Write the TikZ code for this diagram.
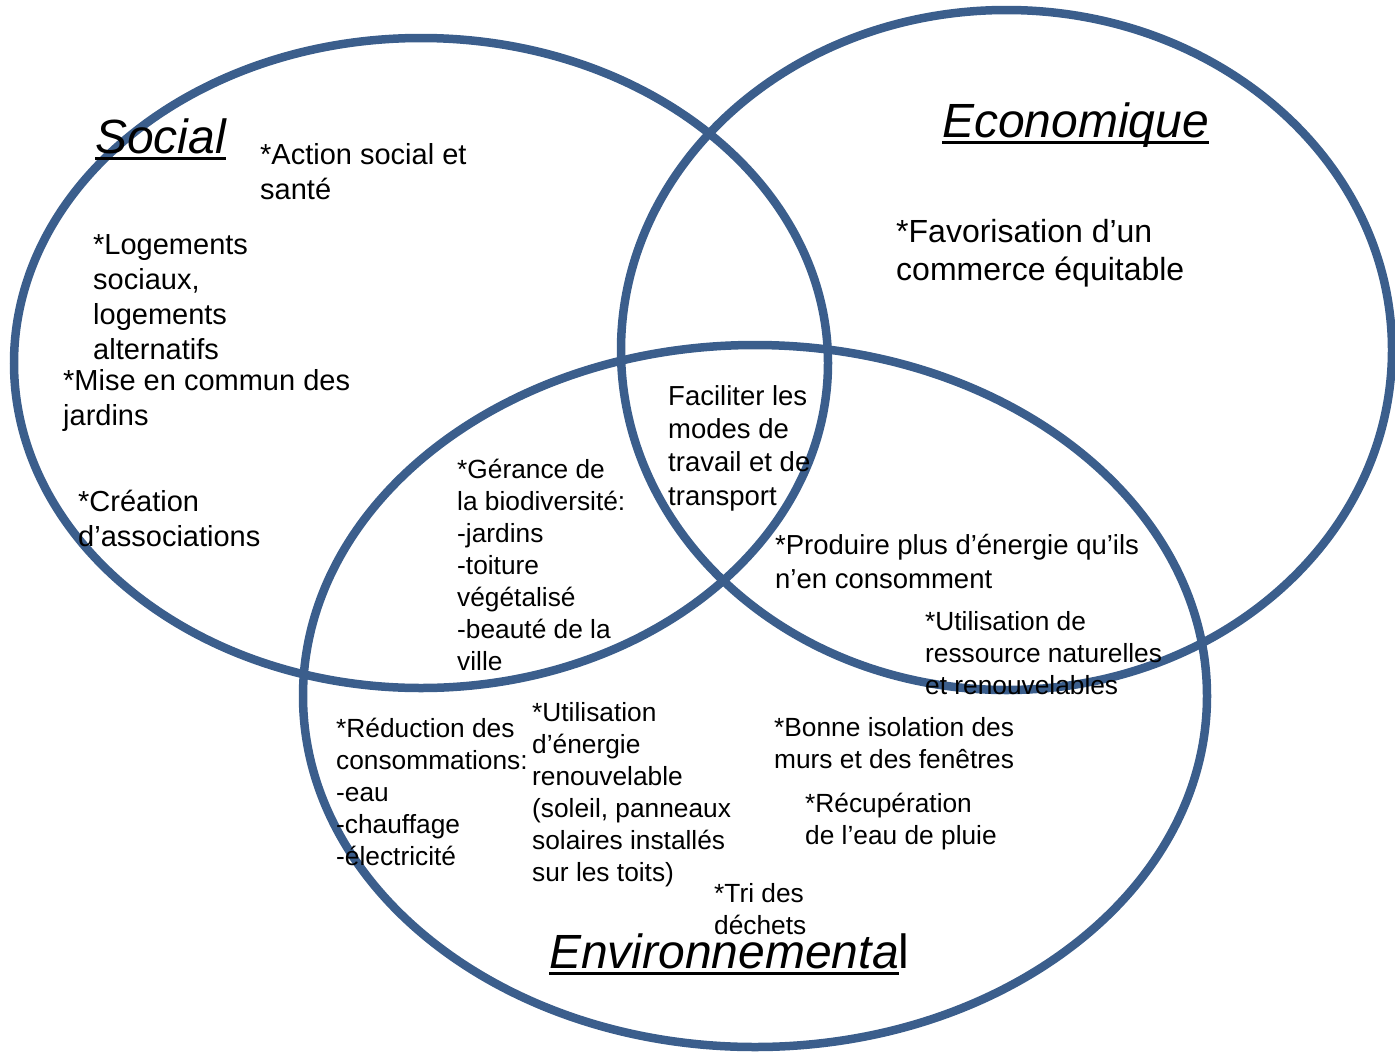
\documentclass[tikz,border=0pt]{standalone}
\usepackage{fontspec}
\setmainfont{Liberation Sans}
\definecolor{vennblue}{HTML}{3B5E8C}
\newcommand{\fsz}[2]{\fontsize{#1}{#2}\selectfont}
\newcommand{\myul}[1]{\setbox0\hbox{#1}\rlap{\rule[-7pt]{\wd0}{3pt}}\box0}
% multi-line nodes: the base anchor is the baseline of the LAST line
\tikzset{
  ring/.style={draw=vennblue, line width=8.5pt},
  txt/.style={anchor=base west, inner sep=0pt, align=left},
  ttl/.style={txt, font=\fsz{48}{56}\itshape},
  fsoc/.style={txt, font=\fsz{29}{35}},
  feco/.style={txt, font=\fsz{32}{37.5}},
  fmid/.style={txt, font=\fsz{27.5}{33.3}},
  fenv/.style={txt, font=\fsz{26.3}{32}}
}
\begin{document}
\begin{tikzpicture}[x=1pt,y=-1pt]
\useasboundingbox (0,0) rectangle (1395,1053);
% circles
\draw[ring] (421,363) ellipse [x radius=407, y radius=325];
\draw[ring] (1006.5,350) ellipse [x radius=385.5, y radius=340];
\draw[ring] (755,696) ellipse [x radius=452, y radius=351];
% titles
\node[ttl] (social) at (95,153) {\myul{Social}};
\node[ttl] (eco) at (942,137) {\myul{Economique}};
\node[ttl] (env) at (549,968) {\myul{Environnementa}\upshape l};
% social
\node[fsoc] (action) at (260,199) {*Action social et\\santé};
\node[fsoc] (logement) at (93,359) {*Logements\\sociaux,\\logements\\alternatifs};
\node[fsoc] (jardins) at (63,425) {*Mise en commun des\\jardins};
\node[fsoc] (assoc) at (78,546) {*Création\\d’associations};
% economique
\node[feco] (commerce) at (896,280) {*Favorisation d’un\\commerce équitable};
% intersections
\node[fmid] (faciliter) at (668,505) {Faciliter les\\modes de\\travail et de\\transport};
\node[fmid] (produire) at (775,588) {*Produire plus d’énergie qu’ils\\n’en consomment};
\node[fenv] (ressource) at (925,694) {*Utilisation de\\ressource naturelles\\et renouvelables};
\node[fenv] (gerance) at (457,670) {*Gérance de\\la biodiversité:\\-jardins\\-toiture\\végétalisé\\-beauté de la\\ville};
% environnemental
\node[fenv] (reduction) at (336,865) {*Réduction des\\consommations:\\-eau\\-chauffage\\-électricité};
\node[fenv] (energie) at (532,881) {*Utilisation\\d’énergie\\renouvelable\\(soleil, panneaux\\solaires installés\\sur les toits)};
\node[fenv] (isolation) at (774,768) {*Bonne isolation des\\murs et des fenêtres};
\node[fenv] (pluie) at (805,844) {*Récupération\\de l’eau de pluie};
\node[fenv] (tri) at (714,934) {*Tri des\\déchets};
\end{tikzpicture}
\end{document}
